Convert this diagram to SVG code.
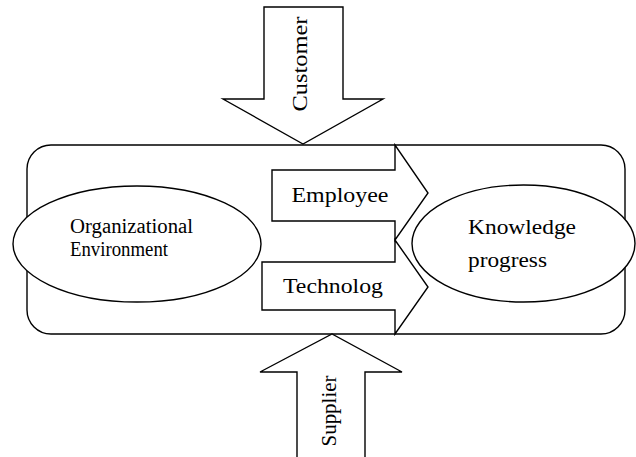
<svg xmlns="http://www.w3.org/2000/svg" width="636" height="457" viewBox="0 0 636 457">
<style>
.s{fill:#fff;stroke:#000;stroke-width:1.4;stroke-linejoin:miter}
.t{font-family:"Liberation Serif","Times New Roman",serif;fill:#000}
</style>
<rect width="636" height="457" fill="#fff"/>
<g id="frame"><rect class="s" x="27" y="145" width="598" height="189" rx="24" ry="24"/></g>
<g id="connectors">
<g id="customer-arrow">
<polygon class="s" points="264,7 343,7 343,99 383,99 303,144 223,99 264,99"/>
<text class="t" font-size="22" text-anchor="middle" textLength="95" lengthAdjust="spacingAndGlyphs" transform="translate(307,64) rotate(-90)">Customer</text>
</g>
<g id="supplier-arrow">
<polygon class="s" points="297,460 297,372 260,372 332,334 402,372 365,372 365,460"/>
<text class="t" font-size="21" text-anchor="middle" textLength="71" lengthAdjust="spacingAndGlyphs" transform="translate(336,411) rotate(-90)">Supplier</text>
</g>
<g id="employee-arrow">
<polygon class="s" points="272,170 395,170 395,145 428,193 395,240 395,221 272,221"/>
<text class="t" font-size="22" text-anchor="middle" textLength="97" lengthAdjust="spacingAndGlyphs" x="340" y="202">Employee</text>
</g>
<g id="technology-arrow">
<polygon class="s" points="262,262 395,262 395,240 428,287 395,334 395,310 262,310"/>
<text class="t" font-size="22" text-anchor="middle" textLength="100" lengthAdjust="spacingAndGlyphs" x="333" y="293">Technolog</text>
</g>
</g>
<g id="org-env">
<ellipse class="s" cx="137" cy="244" rx="124" ry="58"/>
<text class="t" font-size="20" x="70" y="233" textLength="123" lengthAdjust="spacingAndGlyphs">Organizational</text>
<text class="t" font-size="20" x="70" y="256" textLength="98" lengthAdjust="spacingAndGlyphs">Environment</text>
</g>
<g id="knowledge">
<ellipse class="s" cx="523.5" cy="243.5" rx="111.5" ry="58.5"/>
<text class="t" font-size="22" x="468" y="234" textLength="108" lengthAdjust="spacingAndGlyphs">Knowledge</text>
<text class="t" font-size="22" x="468" y="267" textLength="79" lengthAdjust="spacingAndGlyphs">progress</text>
</g>
</svg>
